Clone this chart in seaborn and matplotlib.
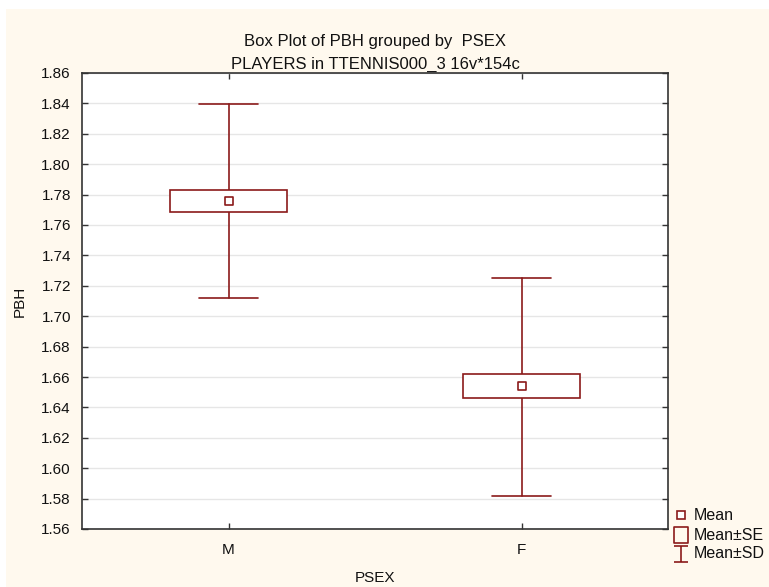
import matplotlib
matplotlib.use("Agg")
import matplotlib.pyplot as plt
import matplotlib.patches as mpatches
from matplotlib.lines import Line2D
from matplotlib.path import Path
import seaborn as sns
import pandas as pd

# ---- data ----
categories = ["M", "F"]
means = [1.776, 1.654]
se_low = [1.7685, 1.6460]
se_high = [1.7830, 1.6620]
sd_low = [1.7120, 1.5817]
sd_high = [1.8395, 1.7253]
yticks = [1.56, 1.58, 1.60, 1.62, 1.64, 1.66, 1.68, 1.70, 1.72, 1.74, 1.76, 1.78, 1.80, 1.82, 1.84, 1.86]
legend_labels = ["Mean", "Mean±SE", "Mean±SD"]

RED = "#8b1a1a"
CREAM = "#fff9ee"
W, H = 769, 587

sns.set_theme(style="white")
plt.rcParams["font.family"] = ["Liberation Sans", "DejaVu Sans"]

fig = plt.figure(figsize=(W / 100, H / 100), dpi=100, facecolor="white")
fig.patches.append(mpatches.Rectangle((6 / W, 0), 1, 1 - 9 / H, transform=fig.transFigure,
                                      facecolor=CREAM, edgecolor="none", zorder=-10))
ax = fig.add_axes([82 / W, 1 - 529 / H, (668 - 82) / W, (529 - 73) / H])
ax.set_facecolor("white")

df = pd.DataFrame({"PSEX": categories, "PBH": means})

for i, c in enumerate(categories):
    ax.plot([i, i], [sd_low[i], se_low[i]], color=RED, lw=1.2, zorder=2)
    ax.plot([i, i], [se_high[i], sd_high[i]], color=RED, lw=1.2, zorder=2)
    for yv in (sd_low[i], sd_high[i]):
        ax.plot([i - 0.1, i + 0.1], [yv, yv], color=RED, lw=1.2, zorder=2)
    ax.add_patch(mpatches.Rectangle((i - 0.2, se_low[i]), 0.4, se_high[i] - se_low[i],
                                    facecolor="white", edgecolor=RED, lw=1.2, zorder=3))

sns.scatterplot(data=df, x="PSEX", y="PBH", marker="s", s=40, facecolor="white",
                edgecolor=RED, linewidth=1.2, ax=ax, zorder=4, legend=False)

ax.set_xlim(-0.5, 1.5)
ax.set_ylim(1.56, 1.86)
ax.set_yticks(yticks)
ax.set_yticklabels([f"{v:.2f}" for v in yticks])
ax.set_xticks([0, 1])
ax.set_xticklabels(categories)
ax.grid(axis="y", color="#e6e6e6", lw=1)
ax.set_axisbelow(True)
for s in ax.spines.values():
    s.set_color("#333333")
    s.set_linewidth(1.2)
ax.tick_params(axis="both", direction="in", length=4, width=1, color="#333333",
               labelsize=11, labelcolor="#111111", top=True, right=True, left=True, bottom=True,
               pad=8)
ax.tick_params(axis="x", pad=10)
ax.set_xlabel("PSEX", fontsize=11, color="#111111")
ax.xaxis.set_label_coords(0.5, (529 - 571) / 456)
ax.set_ylabel("PBH", fontsize=11, color="#111111")
ax.yaxis.set_label_coords((27 - 82) / 586, 0.5)
ax.set_title("Box Plot of PBH grouped by  PSEX\nPLAYERS in TTENNIS000_3 16v*154c",
             fontsize=12, color="#111111", pad=3, linespacing=1.65)

# legend drawn in figure pixel coordinates
def fx(px):
    return px / W

def fy(py):
    return 1 - py / H

sd_path = Path([(-0.4, 0.5), (0.4, 0.5), (0, 0.5), (0, -0.5), (-0.4, -0.5), (0.4, -0.5)],
               [Path.MOVETO, Path.LINETO, Path.MOVETO, Path.LINETO, Path.MOVETO, Path.LINETO])
se_path = Path([(-0.45, -0.5), (0.45, -0.5), (0.45, 0.5), (-0.45, 0.5), (-0.45, -0.5)],
               [Path.MOVETO, Path.LINETO, Path.LINETO, Path.LINETO, Path.CLOSEPOLY])
markers = [("s", 5.5, "white"), (se_path, 11, "none"), (sd_path, 12, "none")]
ys = [515, 535, 554]
for (m, ms, fc), lab, yy in zip(markers, legend_labels, ys):
    fig.add_artist(Line2D([fx(681)], [fy(yy)], transform=fig.transFigure, ls="none",
                          marker=m, markersize=ms, markerfacecolor=fc,
                          markeredgecolor=RED, markeredgewidth=1.2))
    fig.text(fx(694), fy(yy), lab, fontsize=11.5, color="#111111", va="center", ha="left")

fig.savefig("out.png", dpi=100, facecolor="white")
